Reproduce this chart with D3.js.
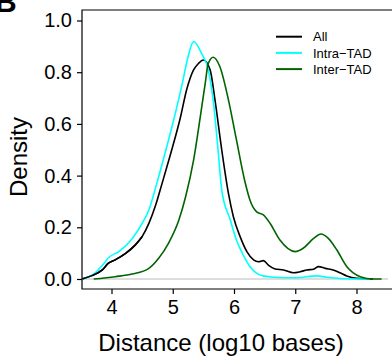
<!DOCTYPE html>
<html>
<head>
<meta charset="utf-8">
<script src="https://cdn.jsdelivr.net/npm/d3@7"></script>
<style>
  body { margin: 0; background: #fff; }
  svg { display: block; font-family: "Liberation Sans", Arial, sans-serif; }
</style>
</head>
<body>
<svg id="chart" width="392" height="363"></svg>
<script>
// density curves, [log10 distance, density]
var allCurve = [
  [3.52, 0], [3.68, 0.013], [3.85, 0.035], [3.95, 0.061], [4.06, 0.074], [4.23, 0.099],
  [4.39, 0.132], [4.50, 0.164], [4.61, 0.215], [4.72, 0.285], [4.82, 0.365], [4.96, 0.480],
  [5.12, 0.620], [5.23, 0.735], [5.34, 0.809], [5.42, 0.834], [5.50, 0.847], [5.61, 0.809],
  [5.69, 0.692], [5.80, 0.499], [5.91, 0.330], [5.99, 0.241], [6.10, 0.164], [6.21, 0.106],
  [6.32, 0.074], [6.40, 0.067], [6.48, 0.071], [6.56, 0.054], [6.67, 0.039], [6.81, 0.035],
  [6.97, 0.024], [7.08, 0.028], [7.19, 0.035], [7.30, 0.038], [7.38, 0.048], [7.49, 0.041],
  [7.62, 0.035], [7.73, 0.024], [7.84, 0.012], [8.00, 0.003], [8.27, 0]
];
var intraCurve = [
  [3.52, 0], [3.68, 0.014], [3.90, 0.067], [3.95, 0.082], [4.12, 0.106], [4.34, 0.157],
  [4.50, 0.215], [4.61, 0.267], [4.74, 0.370], [4.85, 0.465], [5.01, 0.610], [5.15, 0.750],
  [5.25, 0.860], [5.34, 0.919], [5.47, 0.873], [5.58, 0.809], [5.66, 0.692], [5.74, 0.499],
  [5.80, 0.344], [5.94, 0.228], [6.04, 0.151], [6.15, 0.093], [6.26, 0.048], [6.37, 0.022],
  [6.48, 0.012], [6.64, 0.007], [7.02, 0.005], [7.35, 0.012], [7.51, 0.007], [7.84, 0.001],
  [8.22, 0]
];
var interCurve = [
  [3.71, 0], [4.06, 0.009], [4.34, 0.019], [4.61, 0.041], [4.77, 0.080], [4.93, 0.138],
  [5.10, 0.228], [5.21, 0.318], [5.34, 0.460], [5.45, 0.628], [5.53, 0.757], [5.58, 0.834],
  [5.66, 0.858], [5.77, 0.821], [5.91, 0.692], [6.04, 0.538], [6.18, 0.375], [6.26, 0.306],
  [6.37, 0.260], [6.48, 0.248], [6.59, 0.215], [6.75, 0.151], [7.00, 0.106], [7.13, 0.119],
  [7.30, 0.157], [7.42, 0.174], [7.54, 0.157], [7.68, 0.112], [7.84, 0.048], [8.06, 0.009],
  [8.27, 0], [8.41, 0]
];
var seriesNames = ["All", "Intra\u2212TAD", "Inter\u2212TAD"];
var seriesColors = ["#000000", "#00ffff", "#006400"];
var xTicks = [4, 5, 6, 7, 8];
var yTicks = [0, 0.2, 0.4, 0.6, 0.8, 1.0];

var svg = d3.select("#chart");
var plotLeft = 82, plotRight = 392, plotTop = 10, plotBottom = 289;

var x = d3.scaleLinear().domain([4, 8]).range([111.5, 356.5]);
var y = d3.scaleLinear().domain([0, 1]).range([279, 20.5]);

// frame
svg.append("path")
  .attr("d", "M" + plotRight + "," + plotTop + "H" + plotLeft + "V" + plotBottom + "H" + plotRight)
  .attr("fill", "none").attr("stroke", "#000").attr("stroke-width", 1.2);

// zero line
svg.append("line")
  .attr("x1", plotLeft).attr("x2", plotRight - 4)
  .attr("y1", y(0)).attr("y2", y(0))
  .attr("stroke", "#bbbbbb").attr("stroke-width", 1);

// axes
var xAxis = svg.append("g")
  .attr("transform", "translate(0," + plotBottom + ")")
  .call(d3.axisBottom(x).tickValues(xTicks).tickSize(5).tickSizeOuter(0).tickPadding(6).tickFormat(d3.format("d")));
var yAxis = svg.append("g")
  .attr("transform", "translate(" + plotLeft + ",0)")
  .call(d3.axisLeft(y).tickValues(yTicks).tickSize(5).tickSizeOuter(0).tickPadding(5).tickFormat(d3.format(".1f")));
[xAxis, yAxis].forEach(function (g) {
  g.select(".domain").remove();
  g.selectAll(".tick line").attr("stroke", "#000").attr("stroke-width", 1.2);
  g.selectAll(".tick text").attr("font-size", 20).attr("fill", "#000")
    .attr("font-family", "'Liberation Sans', Arial, sans-serif");
});

// curves
var line = d3.line().curve(d3.curveMonotoneX)
  .x(function (d) { return x(d[0]); })
  .y(function (d) { return y(d[1]); });

[allCurve, intraCurve, interCurve].forEach(function (c, i) {
  svg.append("path").datum(c)
    .attr("d", line)
    .attr("fill", "none")
    .attr("stroke", seriesColors[i])
    .attr("stroke-width", 1.6)
    .attr("stroke-linejoin", "round");
});
// black drawn on top near the base like the reference
svg.append("path").datum(allCurve.slice(0, 8))
  .attr("d", line).attr("fill", "none").attr("stroke", "#000").attr("stroke-width", 1.6);

// legend
var legend = svg.append("g");
seriesNames.forEach(function (name, i) {
  var ly = 36.7 + i * 16.2;
  legend.append("line")
    .attr("x1", 276).attr("x2", 302).attr("y1", ly).attr("y2", ly)
    .attr("stroke", seriesColors[i]).attr("stroke-width", 2);
  legend.append("text")
    .attr("x", 313).attr("y", ly).attr("dy", "0.36em")
    .attr("font-size", 13).text(name);
});

// axis titles
svg.append("text")
  .attr("x", 221).attr("y", 351)
  .attr("text-anchor", "middle").attr("font-size", 24)
  .text("Distance (log10 bases)");
svg.append("text")
  .attr("transform", "translate(27,157) rotate(-90)")
  .attr("text-anchor", "middle").attr("font-size", 24)
  .text("Density");

// panel letter (cut off at the top edge, as in the reference)
svg.append("text")
  .attr("x", -5).attr("y", 12)
  .attr("font-size", 30).attr("font-weight", "bold")
  .text("B");
</script>
</body>
</html>
